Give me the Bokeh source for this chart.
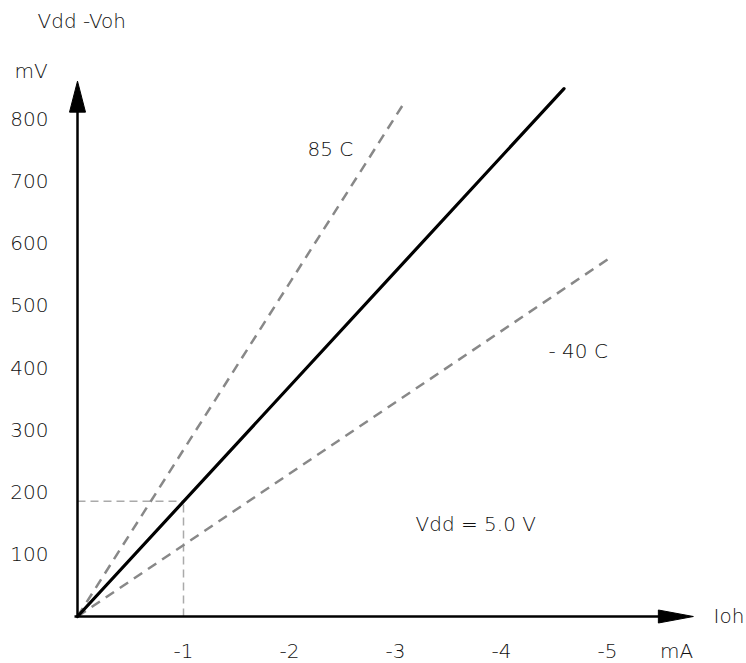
from bokeh.plotting import figure
from bokeh.models import Range1d, Label
from bokeh.core.properties import value
from bokeh.embed import file_html
from bokeh.resources import INLINE

# Data (Ioh magnitude in mA, Vdd-Voh in mV)
x_ticks = [1, 2, 3, 4, 5]
x_tick_labels = ["-1", "-2", "-3", "-4", "-5"]
y_ticks = [100, 200, 300, 400, 500, 600, 700, 800]
y_tick_labels = ["100", "200", "300", "400", "500", "600", "700", "800"]

typ_x = [0, 4.59]
typ_y = [0, 848]
hot_x = [0, 3.07]
hot_y = [0, 822]
cold_x = [0, 5.04]
cold_y = [0, 578]
guide_x = 1.0
guide_y = 185

x_axis_end = 5.81
y_axis_end = 860

FONT_NAME = "DejaVu Sans Light"
FONT = value(FONT_NAME)
TXT = "#111111"
FS = "20px"

W, H = 746, 663
px_x = 106.0   # px per mA
px_y = 0.6225  # px per mV
ox, oy = 77, 616

p = figure(width=W, height=H, output_backend="svg", toolbar_location=None,
           x_range=Range1d(-ox / px_x, (W - ox) / px_x),
           y_range=Range1d((oy - H) / px_y, oy / px_y),
           min_border=0, outline_line_color=None)
p.axis.visible = False
p.grid.visible = False
p.background_fill_color = "white"

# guide lines
p.line([0, guide_x], [guide_y, guide_y], line_color="#aaaaaa", line_width=1.5, line_dash="8 5")
p.line([guide_x, guide_x], [0, guide_y], line_color="#aaaaaa", line_width=1.5, line_dash="8 5")

# series
p.line(hot_x, hot_y, line_color="#888888", line_width=2.5, line_dash="10 7")
p.line(cold_x, cold_y, line_color="#888888", line_width=2.5, line_dash="10 7")
p.line(typ_x, typ_y, line_color="black", line_width=3.2, line_cap="round")

# axes
p.line([-3 / px_x, x_axis_end - 30 / px_x], [0, 0], line_color="black", line_width=2.5)
p.line([0, 0], [0, y_axis_end - 28 / px_y], line_color="black", line_width=2.5)
p.patch([x_axis_end - 35 / px_x, x_axis_end, x_axis_end - 35 / px_x],
        [6.5 / px_y, 0, -6.5 / px_y], color="black")
p.patch([-8 / px_x, 0, 8 / px_x],
        [y_axis_end - 31 / px_y, y_axis_end, y_axis_end - 31 / px_y], color="black")

# tick labels
p.text(x=x_ticks, y=[0] * len(x_ticks), text=x_tick_labels, y_offset=34,
       text_align="center", text_baseline="middle", text_font=FONT,
       text_font_size=FS, text_color=TXT)
p.text(x=[0] * len(y_ticks), y=y_ticks, text=y_tick_labels, x_offset=-29,
       text_align="right", text_baseline="middle", text_font=FONT,
       text_font_size=FS, text_color=TXT)


def screen_label(txt, left, cy, align="left"):
    lab = Label(x=left, y=H - cy, x_units="screen", y_units="screen", text=txt,
                text_align=align, text_baseline="middle", text_font=FONT_NAME,
                text_font_size=FS, text_color=TXT)
    p.add_layout(lab)


screen_label("mA", 676, 650, "center")
screen_label("Ioh", 713, 615)
screen_label("mV", 14, 70)
screen_label("Vdd -Voh", 37, 20)
screen_label("85 C", 307, 148)
screen_label("- 40 C", 548, 350)
screen_label("Vdd = 5.0 V", 415, 523)

open("out.html", "w").write(file_html(p, INLINE))
